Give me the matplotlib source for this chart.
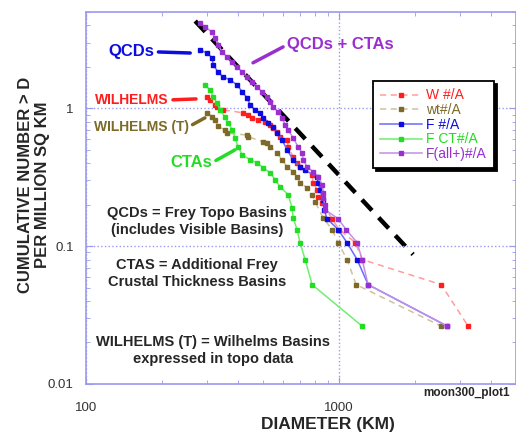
import matplotlib
matplotlib.use('Agg')
import matplotlib.pyplot as plt
from matplotlib.ticker import FixedLocator, NullFormatter

plt.rcParams['font.family'] = ['Liberation Sans', 'DejaVu Sans']

# cumulative number > D per million sq km
w_d = [301, 309, 324, 329, 348, 417, 437, 453, 479, 510, 534, 549, 569, 585, 623, 629,
       658, 682, 701, 782, 789, 819, 826, 857, 938, 1000, 1160, 1233, 2531, 3235]
w_n = [1.21, 1.15, 1.06, 1.03, 0.975, 0.928, 0.897, 0.853, 0.825, 0.798, 0.759, 0.722,
       0.676, 0.622, 0.591, 0.526, 0.445, 0.40, 0.377, 0.330, 0.289, 0.257, 0.228, 0.207,
       0.158, 0.132, 0.106, 0.080, 0.0526, 0.0263]

wt_d = [301, 315, 324, 332, 354, 361, 433, 437, 501, 519, 534, 569, 595, 623, 658, 682,
        701, 747, 782, 804, 864, 938, 991, 1075, 1168, 2531]
wt_n = [0.928, 0.868, 0.825, 0.740, 0.699, 0.660, 0.640, 0.622, 0.572, 0.560, 0.526,
        0.476, 0.423, 0.377, 0.347, 0.319, 0.289, 0.265, 0.236, 0.210, 0.161, 0.132,
        0.106, 0.080, 0.0526, 0.0263]

f_d = [282, 301, 315, 318, 332, 348, 371, 395, 414, 433, 445, 466, 487, 501, 524, 549,
       569, 595, 623, 658, 701, 734, 819, 826, 841, 864, 872, 897, 991, 1075, 1178, 1302, 2673]
f_n = [2.65, 2.52, 2.32, 2.07, 1.84, 1.69, 1.61, 1.48, 1.32, 1.19, 1.06, 0.975, 0.928,
       0.853, 0.785, 0.734, 0.665, 0.591, 0.500, 0.423, 0.377, 0.355, 0.319, 0.289, 0.257,
       0.217, 0.184, 0.158, 0.132, 0.106, 0.080, 0.0526, 0.0263]

fct_d = [295, 309, 318, 329, 339, 354, 364, 378, 388, 399, 414, 445, 474, 501, 534, 559,
         585, 629, 652, 658, 682, 701, 734, 782, 1233]
fct_n = [1.48, 1.36, 1.21, 1.10, 0.975, 0.868, 0.785, 0.699, 0.611, 0.526, 0.460, 0.423,
         0.403, 0.371, 0.341, 0.303, 0.270, 0.236, 0.190, 0.161, 0.132, 0.106, 0.080,
         0.0526, 0.0263]

fall_d = [282, 295, 315, 324, 332, 345, 361, 378, 395, 414, 433, 453, 474, 496, 519, 534,
          549, 574, 595, 612, 629, 658, 689, 714, 721, 747, 789, 826, 857, 864, 864, 880,
          880, 991, 1066, 1178, 1233, 1302, 2673]
fall_n = [4.17, 3.90, 3.58, 3.24, 2.89, 2.57, 2.36, 2.17, 2.00, 1.84, 1.69, 1.56, 1.43,
          1.32, 1.21, 1.11, 1.03, 0.943, 0.853, 0.759, 0.699, 0.611, 0.526, 0.476, 0.423,
          0.377, 0.347, 0.319, 0.279, 0.244, 0.224, 0.200, 0.184, 0.158, 0.132, 0.106,
          0.080, 0.0526, 0.0263]

# D^-2 reference line
ref_d = [270, 1960]
ref_n = [4.3, 0.087]

lav = '#9a9af0'
fig = plt.figure(figsize=(5.16, 4.33), dpi=100)
ax = fig.add_axes([0.1667, 0.1132, 0.8333, 0.8591])

ax.plot(ref_d, ref_n, color='black', lw=3.2, ls=(0, (3.3, 2.2)), zorder=1)

series = [
    (w_d, w_n, 'W #/A', '#ff9c9c', '#ff1e1e', (0, (4, 3))),
    (wt_d, wt_n, 'wt#/A', '#cfc29a', '#7d6a28', (0, (4, 3))),
    (f_d, f_n, 'F #/A', '#6a6aff', '#0c0ce0', '-'),
    (fct_d, fct_n, 'F CT#/A', '#70ee70', '#22dd22', '-'),
    (fall_d, fall_n, 'F(all+)#/A', '#c090e8', '#9a2ed0', '-'),
]
for d, n, lab, lc, mc, ls in series:
    ax.plot(d, n, color=lc, ls=ls, lw=1.1, marker='s', ms=2.5,
            mfc=mc, mec=mc, label=lab, zorder=3)

ax.set_xscale('log')
ax.set_yscale('log')
ax.set_xlim(100, 5000)
ax.set_ylim(0.01, 5)

ax.xaxis.set_major_locator(FixedLocator([100, 1000]))
ax.set_xticklabels(['100', '1000'])
ax.xaxis.set_minor_locator(FixedLocator([200, 300, 400, 500, 600, 700, 800, 900,
                                         2000, 3000, 4000, 5000]))
ax.xaxis.set_minor_formatter(NullFormatter())
ax.yaxis.set_major_locator(FixedLocator([0.01, 0.1, 1]))
ax.set_yticklabels(['0.01', '0.1', '1'])
ax.yaxis.set_minor_locator(FixedLocator([0.02, 0.03, 0.04, 0.05, 0.06, 0.07, 0.08, 0.09,
                                         0.2, 0.3, 0.4, 0.5, 0.6, 0.7, 0.8, 0.9,
                                         2, 3, 4, 5]))
ax.yaxis.set_minor_formatter(NullFormatter())

ax.tick_params(which='both', direction='in', color=lav, top=True, right=True,
               labelcolor='#333333', labelsize=9.5)
ax.tick_params(which='major', length=5)
ax.tick_params(which='minor', length=3)
ax.tick_params(axis='x', pad=13)
ax.tick_params(axis='y', pad=9)
for s in ax.spines.values():
    s.set_color(lav)
    s.set_linewidth(1.2)
ax.grid(which='major', ls=':', color=lav, lw=1)

leg = ax.legend(loc='upper left', bbox_to_anchor=(0.652, 0.832), fontsize=10,
                handlelength=3.0, labelspacing=0.05, borderpad=0.5, handletextpad=0.3,
                fancybox=False, edgecolor='black', framealpha=1,
                shadow={'color': 'black', 'alpha': 1},
                labelcolor='markerfacecolor')
leg.get_frame().set_linewidth(1.3)

# curve labels with leader lines
labels = [
    ('QCDs', (151, 2.57), (258, 2.52), '#0c0ce0', 12, 'center', (1, 0.5)),
    ('QCDs + CTAs', (623, 2.89), (457, 2.14), '#9a2ed0', 12, 'left', (0, 0.5)),
    ('WILHELMS', (152, 1.15), (272, 1.17), '#ff1e1e', 10, 'center', (1, 0.5)),
    ('WILHELMS (T)', (165, 0.734), (295, 0.853), '#7d6a28', 10, 'center', (1, 0.5)),
    ('CTAs', (260, 0.403), (388, 0.50), '#22dd22', 12, 'center', (1, 0.5)),
]
for txt, pos, tip, c, fs, ha, rp in labels:
    ax.annotate(txt, xy=tip, xytext=pos, color=c, fontsize=fs, fontweight='bold',
                ha=ha, va='center',
                arrowprops=dict(arrowstyle='-', color=c, lw=2.5, shrinkA=1, shrinkB=0,
                                relpos=rp))

body = '#262626'
fig.text(0.3818, 0.4885, 'QCDs = Frey Topo Basins\n(includes Visible Basins)',
         ha='center', va='center', fontsize=10.5, fontweight='bold', color=body,
         linespacing=1.3)
fig.text(0.3818, 0.3684, 'CTAS = Additional Frey\nCrustal Thickness Basins',
         ha='center', va='center', fontsize=10.5, fontweight='bold', color=body,
         linespacing=1.3)
fig.text(0.4128, 0.1905, 'WILHELMS (T) = Wilhelms Basins\nexpressed in topo data',
         ha='center', va='center', fontsize=10.5, fontweight='bold', color=body,
         linespacing=1.3)

fig.text(0.0659, 0.5727, 'CUMULATIVE NUMBER > D\nPER MILLION SQ KM', rotation=90,
         ha='center', va='center', fontsize=12, fontweight='bold', color=body,
         linespacing=1.1, multialignment='center')
fig.text(328 / 516, 1 - 425 / 433, 'DIAMETER (KM)', ha='center', va='center',
         fontsize=12.5, fontweight='bold', color=body)
fig.text(467 / 516, 1 - 393 / 433, 'moon300_plot1', ha='center', va='center',
         fontsize=8.5, fontweight='bold', color=body)

fig.savefig('out.png', dpi=100)
